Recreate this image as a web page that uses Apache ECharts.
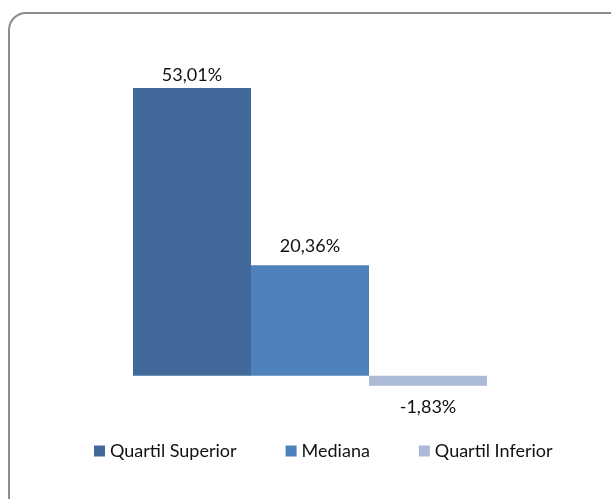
<!DOCTYPE html>
<html>
<head>
<meta charset="utf-8">
<script src="https://cdn.jsdelivr.net/npm/echarts@6/dist/echarts.min.js"></script>
<style>
    html, body { margin: 0; padding: 0; background: #fff; }
    #chart { width: 611px; height: 499px; }
</style>
</head>
<body>
<div id="chart"></div>
<script>
const categories = [""]
const seriesNames = ["Quartil Superior", "Mediana", "Quartil Inferior"]
const quartilSuperior = [53.01]
const mediana = [20.36]
const quartilInferior = [-1.83]

const colors = ["#416A9B", "#4F81BD", "#AABAD7"]
const fontFamily = "Lato"

const chart = echarts.init(document.getElementById("chart"))

function fmt(p) {
    return p.value.toFixed(2).replace(".", ",") + "%"
}

function makeSeries(name, data, color, position, distance) {
    return {
        name: name,
        type: "bar",
        data: data,
        barWidth: 118,
        barGap: "0%",
        itemStyle: { color: color },
        label: {
            show: true,
            position: position,
            distance: distance,
            formatter: fmt,
            color: "#111",
            fontFamily: fontFamily,
            fontSize: 18,
            lineHeight: 18,
        },
    }
}

const option = {
    backgroundColor: "#fff",
    animation: false,
    graphic: [
        {
            type: "rect",
            shape: { x: 9, y: 13, width: 640, height: 520, r: 17 },
            style: { fill: "none", stroke: "#8c8c8c", lineWidth: 2 },
            silent: true,
        },
    ],
    legend: {
        data: seriesNames,
        left: 89,
        top: 437,
        icon: "rect",
        itemWidth: 11,
        itemHeight: 11,
        itemGap: 49,
        textStyle: {
            color: "#111",
            fontFamily: fontFamily,
            fontSize: 18,
            lineHeight: 18,
        },
    },
    grid: {
        left: 133,
        right: 124,
        top: 50,
        bottom: 69,
        containLabel: false,
    },
    xAxis: {
        type: "category",
        data: categories,
        show: false,
    },
    yAxis: {
        type: "value",
        min: -10,
        max: 60,
        show: false,
    },
    series: [
        makeSeries(seriesNames[0], quartilSuperior, colors[0], "top", 4),
        makeSeries(seriesNames[1], mediana, colors[1], "top", 10),
        makeSeries(seriesNames[2], quartilInferior, colors[2], "bottom", 13),
    ],
}

chart.setOption(option)
</script>
</body>
</html>
